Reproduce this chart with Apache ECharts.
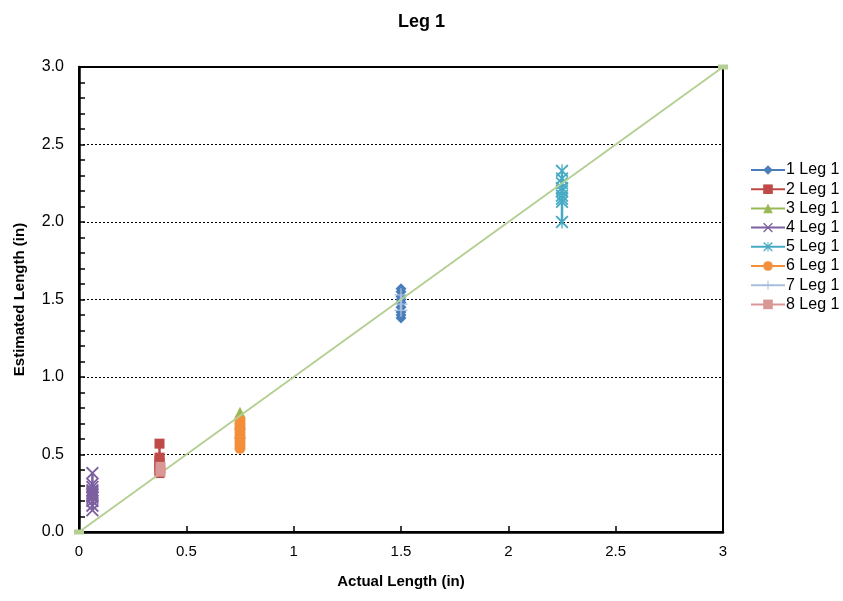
<!DOCTYPE html>
<html><head><meta charset="utf-8">
<script src="https://cdn.jsdelivr.net/npm/echarts@6/dist/echarts.min.js"></script>
<style>html,body{margin:0;padding:0;background:#fff}#c{width:843px;height:601px}</style>
</head><body><div id="c"></div>
<script>
const seriesNames = ['1 Leg 1','2 Leg 1','3 Leg 1','4 Leg 1','5 Leg 1','6 Leg 1','7 Leg 1','8 Leg 1'];
const actualX = [1.5, 0.375, 0.75, 0.0625, 2.25, 0.75, 1.5, 0.38];
const est1 = [1.57, 1.55, 1.52, 1.50, 1.48, 1.45, 1.42, 1.40, 1.38];
const est2 = [0.57, 0.48, 0.46, 0.44, 0.42, 0.40, 0.38];
const est3 = [0.77, 0.70, 0.64];
const est4 = [0.38, 0.31, 0.29, 0.27, 0.26, 0.25, 0.24, 0.23, 0.22, 0.20, 0.17, 0.14];
const est5 = [2.33, 2.28, 2.25, 2.22, 2.20, 2.17, 2.15, 2.13, 2.00];
const est6 = [0.72, 0.70, 0.68, 0.66, 0.64, 0.62, 0.60, 0.58, 0.56, 0.54];
const est7 = [1.53, 1.47, 1.43];
const est8 = [0.43, 0.40, 0.38];
const diagX = [0, 3];
const diagY = [0, 3];
const yTicks = [0, 0.5, 1.0, 1.5, 2.0, 2.5, 3.0];

const allEst = [est1, est2, est3, est4, est5, est6, est7, est8];
const colors = ['#4A7EBB','#BE4B48','#98B954','#7D60A0','#46AAC5','#F38F3A','#A7BFDE','#D99795'];
const X = 'path://M0,1L1,0L5,4L9,0L10,1L6,5L10,9L9,10L5,6L1,10L0,9L4,5Z';
const AST = 'path://M0,1L1,0L4.5,3.5L4.5,0L5.5,0L5.5,3.5L9,0L10,1L6,5L10,9L9,10L5.5,6.5L5.5,10L4.5,10L4.5,6.5L1,10L0,9L4,5Z';
const PLUS = 'path://M4.5,0L5.5,0L5.5,4.5L10,4.5L10,5.5L5.5,5.5L5.5,10L4.5,10L4.5,5.5L0,5.5L0,4.5L4.5,4.5Z';
const symbols = ['diamond','rect','triangle',X,AST,'circle',PLUS,'rect'];
const sizes = [11,10,12,13,13,11,13,[10,7]];

const series = seriesNames.map((n,i)=>({
  name:n, type:'line', color:colors[i],
  data: allEst[i].map(v=>[actualX[i], v]),
  symbol: symbols[i], symbolSize: sizes[i], showSymbol:true,
  lineStyle:{width:2.5, color:colors[i]},
  itemStyle:{color:colors[i]},
  clip:false, z:3+i
}));
series.unshift({
  name:'diag', type:'line', data: diagX.map((x,i)=>[x, diagY[i]]),
  symbol:'rect', symbolSize:[10,5], lineStyle:{width:2, color:'#B6CF94'},
  itemStyle:{color:'#B6CF94'}, clip:false, z:10
});

const F = 'Liberation Sans, Arial, sans-serif';
const chart = echarts.init(document.getElementById('c'));
chart.setOption({
  animation:false,
  textStyle:{fontFamily:F},
  title:{text:'Leg 1', left:'center', top:8, textStyle:{fontSize:18, fontWeight:'bold', color:'#000', fontFamily:F}},
  grid:{left:79, right:120, top:67, bottom:69, show:true, borderColor:'#000', borderWidth:2, backgroundColor:'transparent'},
  legend:{data:seriesNames, orient:'vertical', left:745, top:157, itemWidth:34, itemHeight:12, itemGap:3.2,
    textStyle:{fontSize:16, color:'#000', fontFamily:F, padding:[0,0,0,-4]}},
  xAxis:{type:'value', min:0, max:3, interval:0.5,
    name:'Actual Length (in)', nameLocation:'middle', nameGap:42,
    nameTextStyle:{fontSize:15, fontWeight:'bold', color:'#000'},
    axisLine:{lineStyle:{color:'#000', width:2.5}},
    axisTick:{inside:true, length:6, lineStyle:{color:'#000', width:1.5}},
    axisLabel:{fontSize:15, color:'#000', margin:12, formatter:v=>String(v)},
    splitLine:{show:false}},
  yAxis:{type:'value', min:0, max:3, interval:0.5,
    name:'Estimated Length (in)', nameLocation:'middle', nameGap:52,
    nameTextStyle:{fontSize:15, fontWeight:'bold', color:'#000'},
    axisLine:{show:true, lineStyle:{color:'#000', width:2.5}},
    axisTick:{show:true, inside:true, length:6, lineStyle:{color:'#000', width:1.5}},
    minorTick:{show:true, splitNumber:5, length:6, lineStyle:{color:'#000', width:1.5}},
    axisLabel:{fontSize:16, color:'#000', margin:15, formatter:v=>v.toFixed(1)},
    splitLine:{show:true, lineStyle:{color:'#000', type:[2,2], width:1}}},
  series: series
});
</script></body></html>
